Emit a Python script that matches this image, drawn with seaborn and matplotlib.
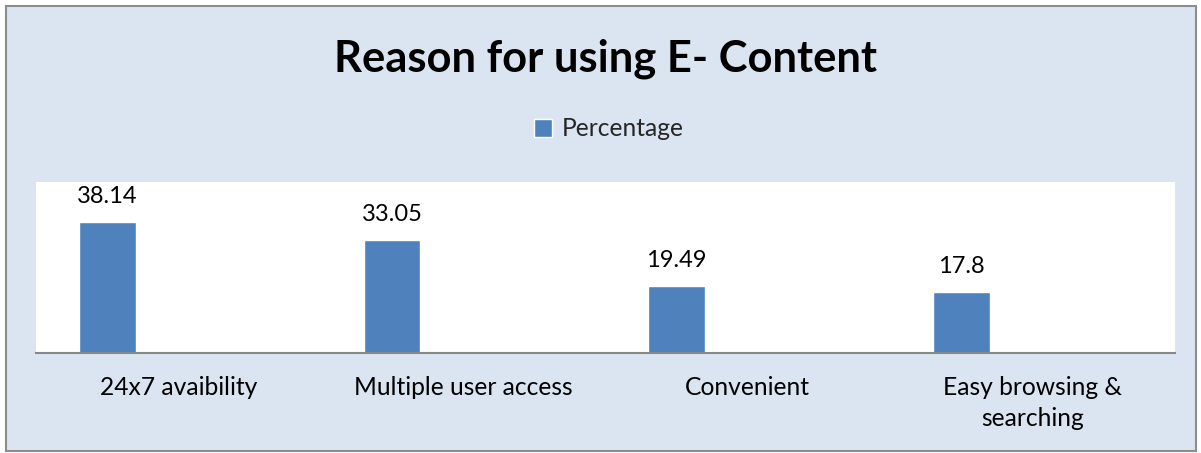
import matplotlib
matplotlib.use("Agg")
import matplotlib.pyplot as plt
import matplotlib.patches as mpatches
import seaborn as sns
import pandas as pd

# Chart data
reasons = ["24x7 avaibility", "Multiple user access", "Convenient", "Easy browsing &\nsearching"]
percentage = [38.14, 33.05, 19.49, 17.8]
value_labels = ["38.14", "33.05", "19.49", "17.8"]

df = pd.DataFrame({"Reason": reasons, "Percentage": percentage})

sns.set_theme(style="white")
plt.rcParams['font.family'] = ['Lato', 'DejaVu Sans']

W, H = 1201, 453
fig = plt.figure(figsize=(W / 100, H / 100), dpi=100, facecolor="white")

# chart area background + border (behind the axes)
fig.patches.append(mpatches.Rectangle((6 / W, 2 / H), 1190 / W, 445 / H,
                                      transform=fig.transFigure, facecolor="#DBE5F1",
                                      edgecolor="#8C8C8C", linewidth=1.5, zorder=-10))

ax = fig.add_axes([36 / W, (H - 352.7) / H, 1139 / W, (352.7 - 182) / H])
ax.set_facecolor("white")
ax.set_zorder(1)

bar_color = "#4F81BD"
sns.barplot(data=df, x="Reason", y="Percentage", color=bar_color, width=0.199,
            saturation=1, ax=ax, label="Percentage")

# Excel-style clustered layout: bars sit left of the category centre
for p in ax.patches:
    p.set_x(p.get_x() - 0.25)

for p, txt in zip(ax.patches, value_labels):
    ax.annotate(txt, (p.get_x() + p.get_width() / 2, p.get_height()),
                xytext=(0, 11), textcoords="offset points", ha="center", va="bottom",
                fontsize=17, color="black")

ax.set_ylim(0, 50)
ax.set_xlim(-0.5, 3.5)
ax.set_xlabel("")
ax.set_ylabel("")
ax.set_yticks([])
ax.tick_params(axis="x", length=0, pad=17, labelsize=17.7, colors="black")
for lbl in ax.get_xticklabels():
    lbl.set_linespacing(1.4)
for s in ["top", "left", "right"]:
    ax.spines[s].set_visible(False)
ax.spines["bottom"].set_color("#888888")
ax.spines["bottom"].set_linewidth(1.5)

ax.legend(loc="center", bbox_to_anchor=(609 / W, 1 - 129 / H), bbox_transform=fig.transFigure,
          frameon=False, fontsize=17.7, handlelength=0.75, handleheight=0.75, handletextpad=0.4)

fig.text(605 / W, 1 - 59 / H, "Reason for using E- Content", ha="center", va="center",
         fontsize=31.3, fontweight="bold", color="black")

fig.savefig("out.png", dpi=100, facecolor="white")
